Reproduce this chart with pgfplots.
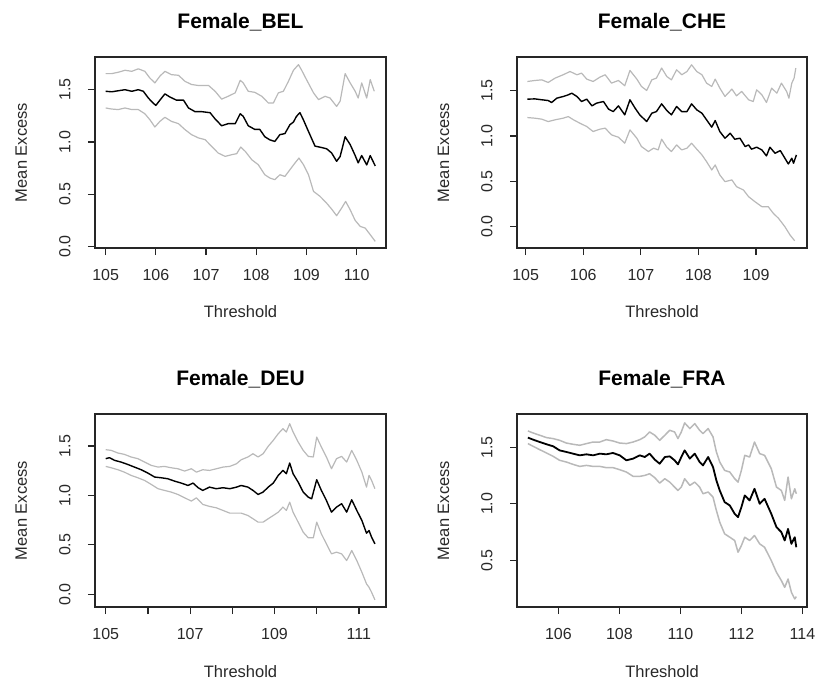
\documentclass[border=0pt]{standalone}
\usepackage{pgfplots}
\pgfplotsset{compat=1.18}
\usepackage{fontspec}
\setmainfont{Liberation Sans}
\definecolor{band}{RGB}{185,185,185}
\definecolor{txt}{RGB}{40,40,40}
\pgfplotsset{
  rstyle/.style={
    scale only axis,
    axis line style={line width=1.2pt, black!85},
    tick style={line width=1.2pt, black!85},
    tick align=outside,
    major tick length=7pt,
    xtick pos=bottom, ytick pos=left,
    ticklabel style={font=\fontsize{16}{19}\selectfont, text=txt},
    xticklabel style={anchor=north, yshift=-11pt},
    yticklabel style={rotate=90, anchor=south, yshift=14pt},
    title style={at={(axis description cs:0.5,1)}, anchor=center, yshift=29pt, font=\bfseries\fontsize{21}{25}\selectfont},
    xlabel style={at={(axis description cs:0.5,-0.335)}, anchor=center, font=\fontsize{16.5}{19}\selectfont, text=txt},
    ylabel style={at={(axis description cs:-0.253,0.5)}, anchor=center, font=\fontsize{16.5}{19}\selectfont, text=txt},
    xlabel={Threshold}, ylabel={Mean Excess},
  },
  me/.style={black, line width=1.4pt, line join=round},
  bd/.style={band, line width=1.2pt, line join=round},
}
\begin{document}
\begin{tikzpicture}
\path[use as bounding box] (0,0) rectangle (815pt,-680pt);

% ---------------- Female_BEL
\begin{axis}[rstyle, at={(95pt,-248pt)}, anchor=south west, width=291pt, height=191pt,
  xmin=104.787, xmax=110.584, ymin=-0.015, ymax=1.813,
  xtick={105,106,107,108,109,110}, xticklabels={105,106,107,108,109,110},
  ytick={0,0.5,1,1.5}, yticklabels={0.0,0.5,1.0,1.5},
  title={Female\_BEL}]
\addplot[bd] coordinates {(105.00,1.654)(105.12,1.654)(105.25,1.667)(105.385,1.686)(105.52,1.676)(105.65,1.70)(105.78,1.676)(105.88,1.612)(105.98,1.565)(106.08,1.63)(106.18,1.676)(106.31,1.644)(106.45,1.638)(106.58,1.58)(106.71,1.55)(106.85,1.54)(107.05,1.54)(107.18,1.485)(107.31,1.41)(107.44,1.437)(107.58,1.47)(107.68,1.59)(107.74,1.565)(107.84,1.485)(107.97,1.475)(108.11,1.437)(108.24,1.373)(108.34,1.373)(108.44,1.47)(108.54,1.485)(108.64,1.58)(108.74,1.686)(108.84,1.74)(108.90,1.69)(109.00,1.597)(109.14,1.47)(109.24,1.405)(109.37,1.437)(109.47,1.42)(109.60,1.34)(109.67,1.39)(109.77,1.654)(109.87,1.565)(109.97,1.485)(110.03,1.42)(110.10,1.565)(110.20,1.42)(110.27,1.597)(110.35,1.485)};
\addplot[bd] coordinates {(105.00,1.325)(105.12,1.315)(105.25,1.31)(105.385,1.325)(105.52,1.31)(105.65,1.31)(105.78,1.27)(105.88,1.213)(105.98,1.143)(106.08,1.197)(106.18,1.236)(106.31,1.197)(106.45,1.175)(106.58,1.118)(106.71,1.07)(106.85,1.038)(106.98,1.022)(107.11,0.958)(107.24,0.894)(107.38,0.862)(107.51,0.878)(107.61,0.888)(107.69,0.951)(107.78,0.91)(107.91,0.83)(108.04,0.782)(108.17,0.686)(108.27,0.655)(108.37,0.639)(108.47,0.686)(108.57,0.67)(108.67,0.734)(108.77,0.798)(108.85,0.846)(108.94,0.782)(109.04,0.686)(109.14,0.527)(109.27,0.479)(109.40,0.415)(109.50,0.358)(109.60,0.294)(109.70,0.367)(109.78,0.431)(109.87,0.351)(109.97,0.249)(110.07,0.192)(110.17,0.176)(110.27,0.112)(110.37,0.048)};
\addplot[me] coordinates {(105.00,1.485)(105.12,1.48)(105.25,1.49)(105.385,1.50)(105.52,1.485)(105.65,1.50)(105.75,1.485)(105.85,1.42)(105.95,1.37)(106.00,1.35)(106.08,1.40)(106.18,1.46)(106.28,1.43)(106.41,1.40)(106.55,1.40)(106.65,1.325)(106.78,1.29)(106.91,1.29)(107.08,1.28)(107.18,1.22)(107.31,1.155)(107.44,1.175)(107.58,1.175)(107.68,1.27)(107.74,1.245)(107.84,1.155)(107.97,1.12)(108.07,1.12)(108.17,1.05)(108.27,1.02)(108.37,1.005)(108.47,1.07)(108.57,1.08)(108.67,1.165)(108.74,1.19)(108.80,1.245)(108.87,1.28)(108.94,1.21)(109.04,1.10)(109.17,0.96)(109.27,0.95)(109.40,0.935)(109.50,0.895)(109.60,0.815)(109.67,0.86)(109.77,1.05)(109.87,0.975)(109.97,0.87)(110.03,0.80)(110.10,0.87)(110.20,0.78)(110.27,0.87)(110.37,0.77)};
\end{axis}

% ---------------- Female_CHE
\begin{axis}[rstyle, at={(517pt,-248pt)}, anchor=south west, width=290pt, height=191pt,
  xmin=104.849, xmax=109.884, ymin=-0.235, ymax=1.872,
  xtick={105,106,107,108,109}, xticklabels={105,106,107,108,109},
  ytick={0,0.5,1,1.5}, yticklabels={0.0,0.5,1.0,1.5},
  title={Female\_CHE}]
\addplot[bd] coordinates {(105.03,1.602)(105.16,1.613)(105.28,1.62)(105.39,1.591)(105.51,1.639)(105.65,1.676)(105.77,1.712)(105.89,1.676)(105.97,1.694)(106.06,1.628)(106.17,1.602)(106.29,1.65)(106.38,1.676)(106.49,1.584)(106.61,1.613)(106.72,1.555)(106.81,1.724)(106.93,1.628)(107.01,1.547)(107.10,1.503)(107.19,1.62)(107.27,1.639)(107.36,1.75)(107.45,1.657)(107.53,1.62)(107.62,1.731)(107.71,1.676)(107.80,1.712)(107.88,1.786)(107.97,1.712)(108.06,1.676)(108.14,1.584)(108.23,1.547)(108.29,1.628)(108.37,1.529)(108.46,1.437)(108.58,1.518)(108.66,1.444)(108.75,1.492)(108.87,1.40)(108.95,1.381)(109.01,1.51)(109.10,1.455)(109.18,1.37)(109.27,1.529)(109.36,1.473)(109.44,1.584)(109.53,1.492)(109.57,1.418)(109.62,1.584)(109.66,1.639)(109.69,1.75)};
\addplot[bd] coordinates {(105.03,1.204)(105.16,1.197)(105.28,1.186)(105.39,1.16)(105.51,1.179)(105.65,1.197)(105.74,1.215)(105.83,1.179)(105.94,1.142)(106.06,1.105)(106.17,1.05)(106.29,1.076)(106.38,1.087)(106.49,1.013)(106.61,0.987)(106.72,0.921)(106.81,1.068)(106.93,0.976)(107.01,0.884)(107.13,0.829)(107.22,0.866)(107.30,0.847)(107.36,0.965)(107.45,0.877)(107.53,0.829)(107.62,0.902)(107.71,0.847)(107.80,0.866)(107.88,0.921)(107.97,0.855)(108.06,0.792)(108.14,0.718)(108.23,0.626)(108.29,0.681)(108.37,0.571)(108.46,0.497)(108.58,0.516)(108.66,0.442)(108.78,0.405)(108.87,0.331)(108.98,0.276)(109.10,0.221)(109.21,0.221)(109.30,0.147)(109.39,0.092)(109.50,0.0)(109.59,-0.092)(109.67,-0.155)};
\addplot[me] coordinates {(105.03,1.407)(105.16,1.41)(105.28,1.40)(105.39,1.392)(105.45,1.37)(105.54,1.418)(105.65,1.436)(105.74,1.455)(105.80,1.473)(105.89,1.436)(105.97,1.381)(106.06,1.407)(106.15,1.333)(106.23,1.363)(106.35,1.381)(106.44,1.296)(106.52,1.27)(106.61,1.333)(106.72,1.234)(106.81,1.40)(106.90,1.307)(106.98,1.234)(107.10,1.16)(107.19,1.252)(107.27,1.27)(107.36,1.355)(107.45,1.282)(107.53,1.234)(107.62,1.326)(107.71,1.27)(107.80,1.27)(107.88,1.355)(107.97,1.289)(108.06,1.252)(108.14,1.179)(108.23,1.098)(108.29,1.171)(108.37,1.05)(108.46,0.976)(108.55,1.031)(108.63,0.965)(108.72,0.976)(108.81,0.884)(108.87,0.902)(108.92,0.855)(109.01,0.877)(109.10,0.847)(109.18,0.781)(109.24,0.877)(109.33,0.81)(109.42,0.84)(109.50,0.755)(109.56,0.692)(109.62,0.755)(109.65,0.70)(109.70,0.792)};
\end{axis}

% ---------------- Female_DEU
\begin{axis}[rstyle, at={(95pt,-607pt)}, anchor=south west, width=291pt, height=193pt,
  xmin=104.746, xmax=111.642, ymin=-0.129, ymax=1.824,
  xtick={105,106,107,108,109,110,111}, xticklabels={105,,107,,109,,111},
  ytick={0,0.5,1,1.5}, yticklabels={0.0,0.5,1.0,1.5},
  title={Female\_DEU}]
\addplot[bd] coordinates {(105.00,1.463)(105.13,1.456)(105.29,1.429)(105.44,1.416)(105.60,1.389)(105.76,1.372)(105.92,1.338)(106.08,1.304)(106.24,1.287)(106.39,1.294)(106.55,1.28)(106.71,1.27)(106.87,1.247)(107.03,1.27)(107.15,1.236)(107.30,1.26)(107.46,1.253)(107.62,1.27)(107.78,1.287)(107.94,1.294)(108.10,1.321)(108.21,1.361)(108.37,1.389)(108.49,1.422)(108.61,1.389)(108.73,1.422)(108.85,1.497)(108.97,1.557)(109.09,1.625)(109.20,1.676)(109.28,1.642)(109.36,1.726)(109.44,1.642)(109.56,1.541)(109.68,1.456)(109.80,1.395)(109.92,1.389)(110.00,1.591)(110.11,1.49)(110.23,1.389)(110.35,1.27)(110.47,1.372)(110.59,1.395)(110.71,1.338)(110.83,1.456)(110.95,1.355)(111.07,1.236)(111.18,1.084)(111.24,1.203)(111.30,1.152)(111.38,1.068)};
\addplot[bd] coordinates {(105.00,1.294)(105.13,1.28)(105.29,1.26)(105.44,1.236)(105.60,1.203)(105.76,1.179)(105.92,1.152)(106.08,1.111)(106.24,1.068)(106.39,1.051)(106.55,1.034)(106.71,1.01)(106.87,0.976)(107.03,0.943)(107.15,0.976)(107.30,0.909)(107.46,0.889)(107.62,0.875)(107.78,0.848)(107.94,0.821)(108.10,0.821)(108.21,0.821)(108.37,0.797)(108.49,0.764)(108.61,0.73)(108.73,0.73)(108.85,0.764)(108.97,0.797)(109.09,0.831)(109.20,0.882)(109.28,0.848)(109.36,0.932)(109.44,0.831)(109.56,0.73)(109.68,0.628)(109.80,0.571)(109.92,0.571)(110.00,0.73)(110.11,0.611)(110.23,0.51)(110.35,0.409)(110.47,0.426)(110.59,0.409)(110.71,0.341)(110.83,0.443)(110.95,0.341)(111.07,0.223)(111.18,0.105)(111.24,0.071)(111.30,0.02)(111.38,-0.057)};
\addplot[me] coordinates {(105.00,1.372)(105.09,1.382)(105.21,1.355)(105.36,1.338)(105.52,1.314)(105.68,1.287)(105.84,1.26)(106.00,1.226)(106.16,1.186)(106.31,1.179)(106.47,1.169)(106.63,1.145)(106.79,1.125)(106.95,1.101)(107.07,1.125)(107.19,1.078)(107.30,1.051)(107.46,1.084)(107.62,1.068)(107.78,1.078)(107.94,1.068)(108.10,1.084)(108.21,1.101)(108.37,1.084)(108.49,1.051)(108.61,1.01)(108.73,1.034)(108.85,1.084)(108.97,1.125)(109.09,1.203)(109.20,1.253)(109.28,1.22)(109.36,1.328)(109.44,1.22)(109.56,1.135)(109.68,1.034)(109.80,0.983)(109.88,0.966)(110.00,1.159)(110.11,1.051)(110.23,0.949)(110.35,0.831)(110.47,0.882)(110.59,0.916)(110.71,0.831)(110.83,0.956)(110.95,0.848)(111.07,0.747)(111.18,0.618)(111.24,0.645)(111.30,0.578)(111.38,0.51)};
\end{axis}

% ---------------- Female_FRA
\begin{axis}[rstyle, at={(517pt,-607pt)}, anchor=south west, width=290pt, height=193pt,
  xmin=104.643, xmax=114.151, ymin=0.086, ymax=1.795,
  xtick={106,108,110,112,114}, xticklabels={106,108,110,112,114},
  ytick={0.5,1,1.5}, yticklabels={0.5,1.0,1.5},
  title={Female\_FRA}]
\addplot[bd, line width=1.5pt] coordinates {(105.00,1.645)(105.17,1.627)(105.39,1.607)(105.61,1.586)(105.83,1.577)(106.04,1.562)(106.26,1.538)(106.48,1.527)(106.70,1.518)(106.92,1.533)(107.14,1.547)(107.36,1.547)(107.57,1.568)(107.79,1.556)(108.01,1.538)(108.23,1.533)(108.45,1.547)(108.67,1.568)(108.83,1.592)(108.99,1.636)(109.16,1.607)(109.32,1.562)(109.49,1.607)(109.65,1.651)(109.81,1.636)(109.92,1.577)(110.03,1.636)(110.14,1.716)(110.31,1.666)(110.47,1.71)(110.63,1.651)(110.74,1.621)(110.91,1.666)(111.07,1.592)(111.18,1.459)(111.29,1.37)(111.45,1.296)(111.62,1.281)(111.78,1.222)(111.89,1.192)(112.00,1.296)(112.11,1.429)(112.27,1.414)(112.43,1.547)(112.60,1.444)(112.76,1.429)(112.98,1.311)(113.15,1.148)(113.31,1.118)(113.42,1.03)(113.53,1.237)(113.64,1.044)(113.75,1.133)(113.80,1.089)};
\addplot[bd, line width=1.5pt] coordinates {(105.00,1.533)(105.17,1.509)(105.39,1.479)(105.61,1.45)(105.83,1.42)(106.04,1.385)(106.26,1.37)(106.48,1.349)(106.70,1.331)(106.92,1.34)(107.14,1.331)(107.36,1.331)(107.57,1.32)(107.79,1.32)(108.01,1.302)(108.23,1.281)(108.45,1.243)(108.67,1.243)(108.83,1.251)(108.99,1.266)(109.16,1.231)(109.32,1.183)(109.49,1.222)(109.65,1.192)(109.81,1.148)(109.92,1.118)(110.03,1.148)(110.14,1.222)(110.31,1.163)(110.47,1.192)(110.63,1.148)(110.74,1.089)(110.91,1.104)(111.07,1.059)(111.18,0.941)(111.29,0.837)(111.45,0.734)(111.62,0.704)(111.78,0.675)(111.89,0.571)(112.00,0.63)(112.11,0.704)(112.27,0.675)(112.43,0.719)(112.60,0.645)(112.76,0.615)(112.98,0.497)(113.15,0.393)(113.31,0.32)(113.42,0.26)(113.53,0.334)(113.64,0.216)(113.75,0.157)(113.80,0.178)};
\addplot[me, line width=1.8pt] coordinates {(105.00,1.586)(105.17,1.568)(105.39,1.547)(105.61,1.527)(105.83,1.509)(106.04,1.473)(106.26,1.459)(106.48,1.444)(106.70,1.429)(106.92,1.438)(107.14,1.429)(107.36,1.444)(107.57,1.438)(107.79,1.45)(108.01,1.429)(108.23,1.385)(108.45,1.40)(108.67,1.429)(108.83,1.414)(108.99,1.444)(109.16,1.391)(109.32,1.355)(109.49,1.414)(109.65,1.42)(109.81,1.385)(109.92,1.349)(110.03,1.414)(110.14,1.473)(110.31,1.40)(110.47,1.444)(110.63,1.37)(110.74,1.34)(110.91,1.414)(111.07,1.325)(111.18,1.207)(111.29,1.118)(111.45,1.015)(111.62,0.985)(111.78,0.911)(111.89,0.882)(112.00,0.97)(112.11,1.074)(112.27,1.03)(112.43,1.133)(112.60,1.0)(112.76,1.044)(112.98,0.911)(113.15,0.793)(113.31,0.749)(113.42,0.675)(113.53,0.778)(113.64,0.645)(113.75,0.704)(113.80,0.615)};
\end{axis}
\end{tikzpicture}
\end{document}
